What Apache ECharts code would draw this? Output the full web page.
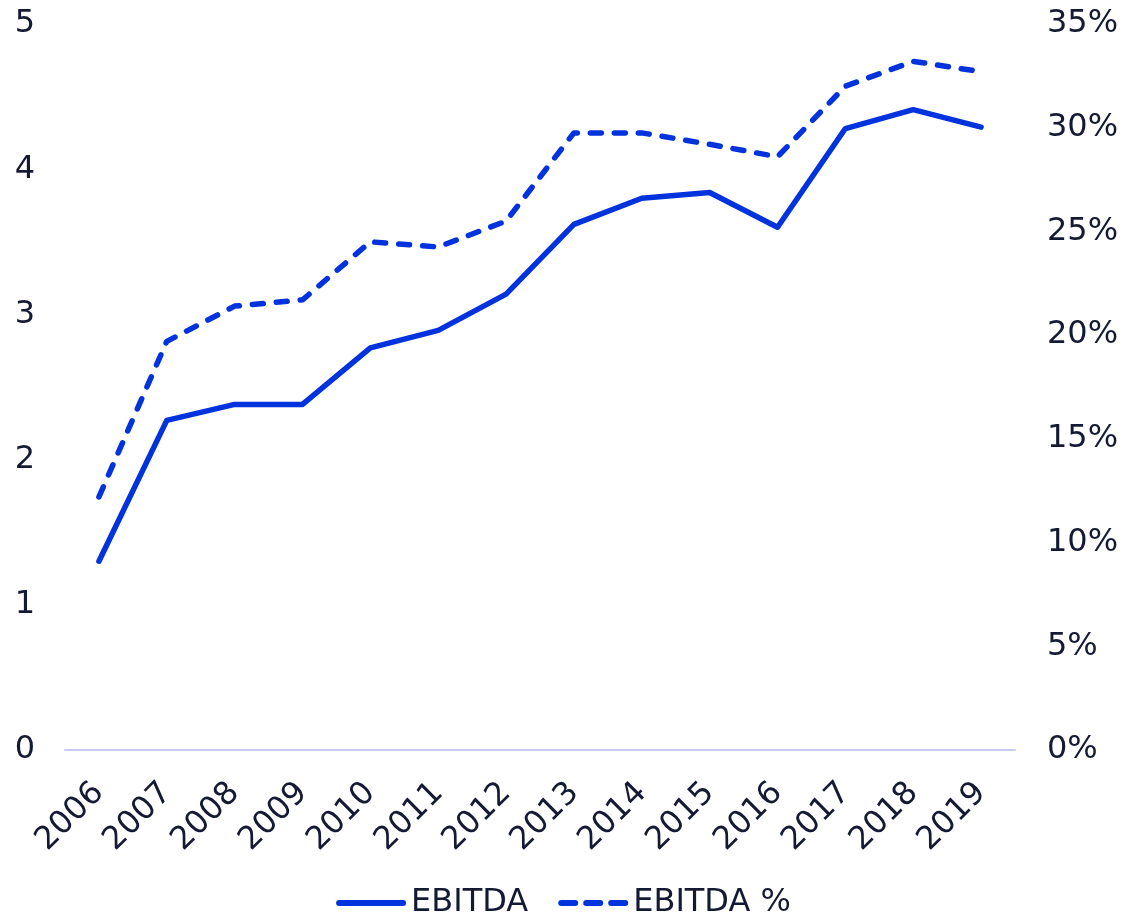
<!DOCTYPE html>
<html>
<head>
<meta charset="utf-8">
<script src="https://cdn.jsdelivr.net/npm/echarts@6/dist/echarts.min.js"></script>
<style>
  html, body { margin: 0; padding: 0; background: #fff; }
  #chart { width: 1127px; height: 916px; }
</style>
</head>
<body>
<div id="chart"></div>
<script>
// 数据
const years = ['2006', '2007', '2008', '2009', '2010', '2011', '2012', '2013', '2014', '2015', '2016', '2017', '2018', '2019']
const ebitda = [1.3, 2.27, 2.38, 2.38, 2.77, 2.89, 3.14, 3.62, 3.80, 3.84, 3.60, 4.28, 4.41, 4.29]
const ebitdaPct = [0.122, 0.197, 0.214, 0.217, 0.245, 0.2425, 0.255, 0.2975, 0.2975, 0.292, 0.286, 0.320, 0.332, 0.327]

const lineColor = '#0033dd'
const textColor = '#141a33'
const fontFamily = 'DejaVu Sans, Verdana, sans-serif'
const fontSize = 32

// 图例图标（实线 / 虚线）
const solidIcon = 'path://M3,0 h64 a3,3 0 0 1 0,6 h-64 a3,3 0 0 1 0,-6 z'
const dashIcon = 'path://M3,0 h14 a3,3 0 0 1 0,6 h-14 a3,3 0 0 1 0,-6 z M28,0 h14 a3,3 0 0 1 0,6 h-14 a3,3 0 0 1 0,-6 z M53,0 h14 a3,3 0 0 1 0,6 h-14 a3,3 0 0 1 0,-6 z'

const chart = echarts.init(document.getElementById('chart'))

const option = {
  animation: false,
  grid: { left: 65, right: 112, top: 24, bottom: 166, containLabel: false },
  legend: {
    bottom: -8,
    left: 'center',
    itemWidth: 70,
    itemHeight: 6,
    itemGap: 30,
    textStyle: { color: textColor, fontSize: fontSize, fontFamily: fontFamily },
    data: [
      { name: 'EBITDA', icon: solidIcon, itemStyle: { color: lineColor } },
      { name: 'EBITDA %', icon: dashIcon, itemStyle: { color: lineColor } }
    ]
  },
  xAxis: {
    type: 'category',
    data: years,
    boundaryGap: true,
    axisLine: { lineStyle: { color: '#c8cdf0', width: 2 } },
    axisTick: { show: false },
    axisLabel: {
      rotate: 45,
      margin: 38,
      color: textColor,
      fontSize: fontSize,
      fontFamily: fontFamily,
      interval: 0
    }
  },
  yAxis: [
    {
      type: 'value',
      min: 0,
      max: 5,
      interval: 1,
      splitLine: { show: false },
      axisLine: { show: false },
      axisTick: { show: false },
      axisLabel: { color: textColor, fontSize: fontSize, fontFamily: fontFamily, margin: 30 }
    },
    {
      type: 'value',
      min: 0,
      max: 0.35,
      interval: 0.05,
      splitLine: { show: false },
      axisLine: { show: false },
      axisTick: { show: false },
      axisLabel: {
        color: textColor,
        fontSize: fontSize,
        fontFamily: fontFamily,
        margin: 32,
        formatter: v => Math.round(v * 100) + '%'
      }
    }
  ],
  series: [
    {
      name: 'EBITDA',
      type: 'line',
      data: ebitda,
      yAxisIndex: 0,
      symbol: 'none',
      color: lineColor,
      lineStyle: { color: lineColor, width: 5.5, cap: 'round', join: 'round' }
    },
    {
      name: 'EBITDA %',
      type: 'line',
      data: ebitdaPct,
      yAxisIndex: 1,
      symbol: 'none',
      color: lineColor,
      lineStyle: { color: lineColor, width: 5.5, type: [11, 13], cap: 'round', join: 'round' }
    }
  ]
}

chart.setOption(option)
</script>
</body>
</html>
